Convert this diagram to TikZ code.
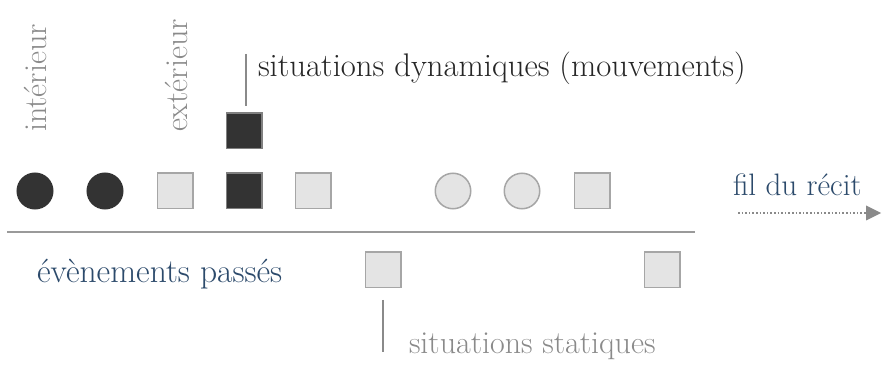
\documentclass[tikz,border=0pt]{standalone}
\usetikzlibrary{arrows.meta}
\definecolor{inkdark}{HTML}{333333}
\definecolor{inklight}{HTML}{E4E4E4}
\definecolor{edgegray}{HTML}{A6A6A6}
\definecolor{labelgray}{HTML}{8A8A8A}
\definecolor{labelblue}{HTML}{2C4A6B}
\definecolor{rulegray}{HTML}{9A9A9A}
\begin{document}
\begin{tikzpicture}[x=1pt,y=-1pt,
  every node/.style={inner sep=0pt, outer sep=0pt},
  unit/.style={minimum size=35.5pt, line width=1.5pt},
  darkdisc/.style={unit, circle, fill=inkdark, draw=inkdark},
  lightdisc/.style={unit, circle, fill=inklight, draw=edgegray},
  darkbox/.style={unit, rectangle, fill=inkdark, draw=gray},
  lightbox/.style={unit, rectangle, fill=inklight, draw=edgegray},
  txt/.style={font=\fontsize{32}{38}\selectfont},
  tick/.style={draw=labelgray, line width=1.3pt}
]
\useasboundingbox (0,0) rectangle (884,366);

% main row of events
\node[darkdisc]  (e1) at (35,191) {};
\node[darkdisc]  (e2) at (105,191) {};
\node[lightbox]  (e3) at (175,191) {};
\node[darkbox]   (e4) at (244,191) {};
\node[lightbox]  (e5) at (313,191) {};
\node[lightdisc] (e6) at (453,191) {};
\node[lightdisc] (e7) at (522,191) {};
\node[lightbox]  (e8) at (592,191) {};

% stacked dynamic situation
\node[darkbox] (up) at (244,131) {};

% past events below the line
\node[lightbox] (p1) at (383,270) {};
\node[lightbox] (p2) at (662,270) {};

% time line
\coordinate (lineL) at (7,232);
\coordinate (lineR) at (695,232);
\draw[rulegray, line width=2pt] (lineL) -- (lineR);

% labels
\node[txt, text=labelgray, rotate=90, anchor=base west] (lin) at (46,132) {intérieur};
\node[txt, text=labelgray, rotate=90, anchor=base west] (lex) at (187,132) {extérieur};
\node[txt, font=\fontsize{32.7}{38}\selectfont, text=black!85, anchor=base west] (ldyn) at (258,77) {situations dynamiques (mouvements)};
\node[txt, font=\fontsize{33.5}{38}\selectfont, text=labelblue, anchor=base west] (lpast) at (37,283) {évènements passés};
\node[txt, font=\fontsize{31}{38}\selectfont, text=labelblue, anchor=base west] (lfil) at (733,196) {fil du récit};
\node[txt, text=labelgray, anchor=base west] (lsta) at (409,353) {situations statiques};

% ticks tying labels to their shapes
\coordinate (t1a) at (246,54);
\coordinate (t1b) at (246,106);
\draw[tick] (t1a) -- (t1b);
\coordinate (t2a) at (383,300);
\coordinate (t2b) at (383,352);
\draw[tick] (t2a) -- (t2b);

% direction of the narrative
\coordinate (arrL) at (738,213);
\coordinate (arrR) at (881,213);
\draw[labelgray, line width=1.6pt, dotted, -{Triangle[length=15pt,width=15pt,line width=0pt]}] (arrL) -- (arrR);
\end{tikzpicture}
\end{document}
